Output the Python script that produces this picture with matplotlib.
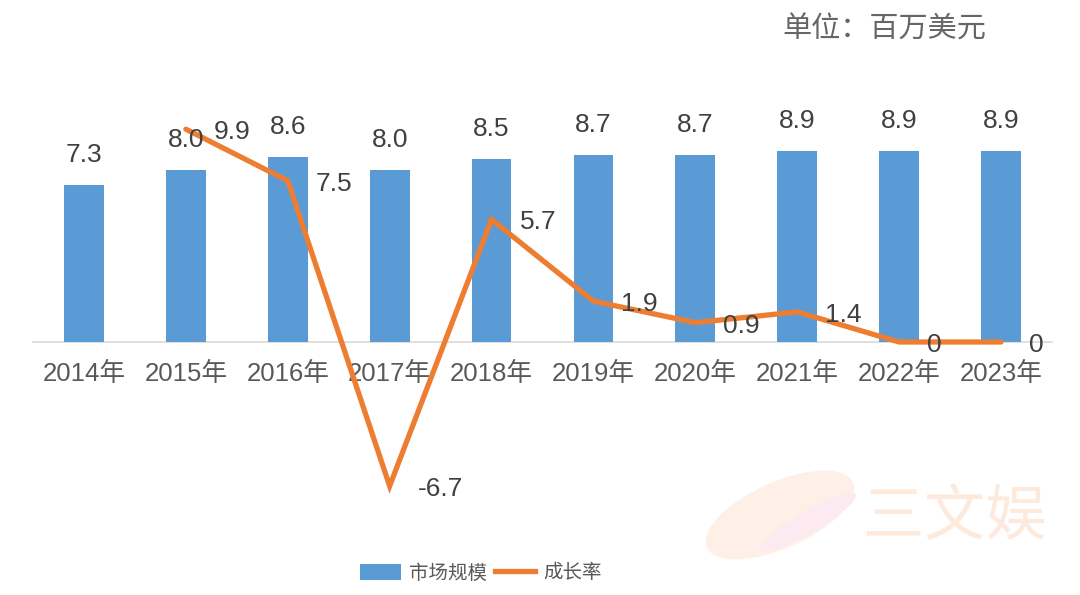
import matplotlib
matplotlib.use('Agg')
import matplotlib.pyplot as plt
from matplotlib.patches import Patch, Ellipse
from matplotlib.lines import Line2D

plt.rcParams['font.family'] = ['Liberation Sans', 'Noto Sans CJK SC', 'DejaVu Sans']

# data
years = ['2014年', '2015年', '2016年', '2017年', '2018年',
         '2019年', '2020年', '2021年', '2022年', '2023年']
market_size = [7.3, 8.0, 8.6, 8.0, 8.5, 8.7, 8.7, 8.9, 8.9, 8.9]
growth_rate = [9.9, 7.5, -6.7, 5.7, 1.9, 0.9, 1.4, 0, 0]   # from 2015 on
growth_labels = ['9.9', '7.5', '-6.7', '5.7', '1.9', '0.9', '1.4', '0', '0']

BAR_COLOR = '#5B9BD5'
LINE_COLOR = '#ED7D31'
TEXT_COLOR = '#404040'

W, H = 1080, 595
fig = plt.figure(figsize=(W / 100, H / 100), dpi=100)

# faint watermark logo (behind everything)
logo_ax = fig.add_axes([0, 0, 1, 1], zorder=0)
logo_ax.set_xlim(0, W)
logo_ax.set_ylim(H, 0)
logo_ax.axis('off')
logo_ax.add_patch(Ellipse((780, 515), 160, 66, angle=-24, color='#FEF0E6', lw=0))
logo_ax.add_patch(Ellipse((808, 522), 110, 22, angle=-30, color='#FCEAF0', lw=0))
logo_ax.text(955, 518, '三文娱', fontsize=44, color='#FDEADC', ha='center', va='center',
             family=['Noto Sans CJK SC', 'DejaVu Sans'])

# axes placed so zero sits at pixel 342 and 1 unit ~ 21.5 px
px_unit = 21.5
top_px, bot_px, zero_px = 60, 510, 342
left_px, right_px = 33, 1052
ax = fig.add_axes([left_px / W, 1 - bot_px / H,
                   (right_px - left_px) / W, (bot_px - top_px) / H], zorder=1)
ax.patch.set_alpha(0)
ax.set_xlim(-0.5, len(years) - 0.5)
ax.set_ylim(-(bot_px - zero_px) / px_unit, (zero_px - top_px) / px_unit)

x = list(range(len(years)))
ax.bar(x, market_size, width=0.39, color=BAR_COLOR, zorder=2)
for xi, v in zip(x, market_size):
    ax.annotate(f'{v:.1f}', (xi, v), xytext=(0, 30), textcoords='offset pixels',
                ha='center', va='center', fontsize=19, color=TEXT_COLOR, zorder=4)

gx = x[1:]
ax.plot(gx, growth_rate, color=LINE_COLOR, lw=3.8, solid_joinstyle='miter',
        solid_capstyle='round', zorder=3)
for xi, v, lab in zip(gx, growth_rate, growth_labels):
    ax.annotate(lab, (xi, v), xytext=(28, -3), textcoords='offset pixels',
                ha='left', va='center', fontsize=19, color=TEXT_COLOR, zorder=4)

# axis styling: only the zero line and year labels
for s in ['top', 'right', 'left']:
    ax.spines[s].set_visible(False)
ax.spines['bottom'].set_position(('data', 0))
ax.spines['bottom'].set_color('#D9D9D9')
ax.spines['bottom'].set_linewidth(1.2)
ax.spines['bottom'].set_zorder(1)
ax.set_yticks([])
ax.set_xticks(x)
ax.set_xticklabels(years, fontsize=18.5, color='#595959')
ax.tick_params(axis='x', length=0, pad=14)

# unit note
fig.text(782 / W, 1 - 30 / H, '单位：百万美元', fontsize=21, color='#666666',
         ha='left', va='center', family=['Noto Sans CJK SC', 'DejaVu Sans'])

handles = [Patch(facecolor=BAR_COLOR, label='市场规模'),
           Line2D([0], [0], color=LINE_COLOR, lw=3.8, label='成长率')]
fig.legend(handles=handles, loc='center', bbox_to_anchor=(481 / W, 1 - 573 / H),
           ncol=2, frameon=False, handlelength=2.1, handleheight=0.9,
           handletextpad=0.4, columnspacing=0.4,
           prop={'family': ['Noto Sans CJK SC', 'DejaVu Sans'], 'size': 14},
           labelcolor='#595959')

plt.savefig('out.png', dpi=100)
